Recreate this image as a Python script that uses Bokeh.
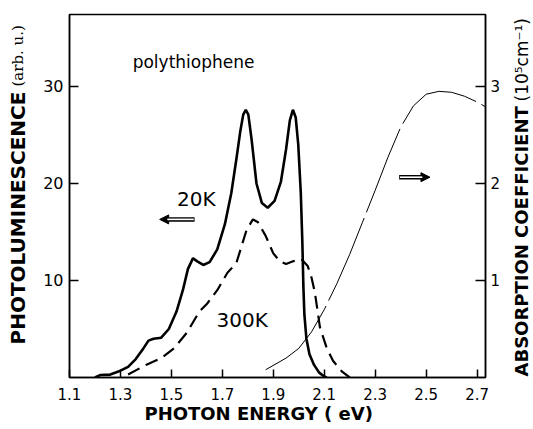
import math
from bokeh.plotting import figure
from bokeh.layouts import row
from bokeh.models import Range1d, LinearAxis, FixedTicker, Label, Arrow, NormalHead
from bokeh.embed import file_html
from bokeh.resources import INLINE

# ---- data ----
energy_20k = [1.20, 1.22, 1.26, 1.30, 1.33, 1.36, 1.39, 1.41, 1.43, 1.46, 1.49, 1.52,
              1.545, 1.565, 1.585, 1.60, 1.625, 1.65, 1.68, 1.71, 1.735, 1.755, 1.77,
              1.782, 1.792, 1.802, 1.815, 1.834, 1.855, 1.878, 1.905, 1.93, 1.95, 1.965,
              1.977, 1.988, 1.998, 2.008, 2.014, 2.018, 2.022, 2.03, 2.042, 2.06, 2.08,
              2.10, 2.11]
pl_20k = [0.0, 0.25, 0.3, 0.7, 1.1, 1.9, 3.0, 3.8, 4.0, 4.1, 5.0, 6.8,
          9.0, 11.2, 12.3, 12.0, 11.6, 11.9, 13.2, 15.8, 19.0, 22.5, 25.3,
          27.1, 27.6, 27.1, 24.5, 20.0, 18.0, 17.5, 18.2, 20.2, 23.5, 26.5,
          27.6, 26.8, 24.0, 19.0, 14.0, 9.5, 6.5, 4.0, 2.4, 1.3, 0.5,
          0.1, 0.0]

energy_300k = [1.33, 1.40, 1.46, 1.51, 1.56, 1.61, 1.64, 1.68, 1.72, 1.755, 1.795,
               1.82, 1.84, 1.87, 1.90, 1.925, 1.95, 1.98, 2.01, 2.035, 2.05, 2.063,
               2.083, 2.11, 2.135, 2.17, 2.20]
pl_300k = [0.3, 1.3, 2.0, 3.0, 4.6, 6.8, 7.6, 9.0, 10.8, 11.8, 15.2,
           16.3, 16.0, 14.6, 12.8, 12.0, 11.7, 12.0, 12.2, 11.5, 10.3, 8.8,
           5.2, 3.0, 1.7, 0.6, 0.0]

energy_abs = [1.87, 1.95, 2.00, 2.05, 2.10, 2.15, 2.20, 2.25, 2.30, 2.35, 2.40,
              2.45, 2.50, 2.55, 2.60, 2.65, 2.70, 2.733]
absorption = [0.08, 0.20, 0.30, 0.47, 0.70, 0.97, 1.27, 1.60, 1.93, 2.27, 2.58,
              2.80, 2.92, 2.95, 2.94, 2.90, 2.84, 2.79]

x_ticks = [1.1, 1.3, 1.5, 1.7, 1.9, 2.1, 2.3, 2.5, 2.7]
left_ticks = [10, 20, 30]
right_ticks = [1, 2, 3]

x_title = "PHOTON   ENERGY ( eV)" + "\u00a0" * 4
left_title_main = "PHOTOLUMINESCENCE"
left_title_unit = "(arb. u.)"
right_title_main = "ABSORPTION  COEFFICIENT"
right_title_unit = "(10\u2075cm\u207b\u00b9)"

# annotation anchors (data units)
arrow_left = (1.591, 1.454, 16.3)
arrow_right = (2.394, 2.515, 20.65)

FONT = "DejaVu Sans"
H = 429
W_SIDE = 30
W_MAIN = 533 - 2 * W_SIDE
TOP, BOTTOM = 14, 52


def side_panel():
    # frame aligned with the main plot frame; data y == page y measured from bottom
    s = figure(width=W_SIDE, height=H, x_range=Range1d(0, W_SIDE),
               y_range=Range1d(BOTTOM, H - TOP),
               output_backend="svg", toolbar_location=None,
               x_axis_location=None, y_axis_location=None,
               min_border_left=0, min_border_right=0,
               min_border_top=TOP, min_border_bottom=BOTTOM)
    s.title.visible = False
    s.grid.visible = False
    s.outline_line_color = None
    return s


p = figure(width=W_MAIN, height=H,
           x_range=Range1d(1.1, 2.733), y_range=Range1d(0, 37.42),
           output_backend="svg", toolbar_location=None,
           min_border_left=39, min_border_right=18,
           min_border_top=TOP, min_border_bottom=BOTTOM)
p.title.visible = False
p.extra_y_ranges = {"abs": Range1d(0, 3.742)}
p.grid.visible = False
p.outline_line_color = "black"
p.outline_line_width = 1.5
p.outline_line_alpha = 1.0

xa = p.xaxis[0]
xa.ticker = FixedTicker(ticks=x_ticks)
ya = p.yaxis[0]
ya.ticker = FixedTicker(ticks=left_ticks)
ra = LinearAxis(y_range_name="abs", ticker=FixedTicker(ticks=right_ticks))
p.add_layout(ra, "right")

for ax, tin, stand, fs in ((xa, 8, 10, "15px"), (ya, 9, 6, "16px"), (ra, 10, 5, "15px")):
    ax.major_tick_in = tin
    ax.major_tick_out = 0
    ax.minor_tick_line_color = None
    ax.major_tick_line_width = 1.5
    ax.axis_line_width = 1.5
    ax.major_label_standoff = stand
    ax.major_label_text_font = FONT
    ax.major_label_text_font_size = fs
    ax.major_label_text_color = "black"
    ax.axis_label = None

xa.axis_label = x_title
xa.axis_label_standoff = 0
xa.axis_label_text_font = FONT
xa.axis_label_text_font_style = "bold"
xa.axis_label_text_font_size = "18px"
xa.axis_label_text_color = "black"

# curves
p.line(energy_20k, pl_20k, line_color="black", line_width=2.6)
p.line(energy_300k, pl_300k, line_color="black", line_width=2.2, line_dash="13 7")
p.line(energy_abs, absorption, y_range_name="abs", line_color="black",
       line_width=1.0, line_dash="90 6")

# arrows (double-line shaft)
for xs, xe, yy in (arrow_left, arrow_right):
    p.add_layout(Arrow(x_start=xs, y_start=yy, x_end=xe, y_end=yy,
                       line_color="black", line_width=4.5,
                       end=NormalHead(size=9, fill_color="black", line_color="black")))
    d = 0.03 if xe < xs else -0.03
    p.segment(x0=[xs - d * 0.1], y0=[yy], x1=[xe + d], y1=[yy],
              line_color="white", line_width=1.6, level="overlay")

# text labels inside the plot
for x, y, t, fs in ((1.348, 32.5, "polythiophene", "17px"),
                    (1.522, 18.42, "20K", "20px"),
                    (1.677, 5.88, "300K", "20px")):
    p.add_layout(Label(x=x, y=y, text=t, text_font=FONT, text_font_size=fs,
                       text_color="black", text_baseline="alphabetic", text_align="left"))

# left axis title (bold sans + serif unit)
pl = side_panel()
pl.add_layout(Label(x=17, y=H - 344, text=left_title_main, angle=math.pi / 2,
                    text_font=FONT, text_font_style="bold", text_font_size="20px",
                    text_color="black", text_align="left", text_baseline="middle"))
pl.add_layout(Label(x=17, y=H - 86, text=left_title_unit, angle=math.pi / 2,
                    text_font="DejaVu Serif", text_font_size="15px",
                    text_color="black", text_align="left", text_baseline="middle"))

# right axis title
pr = side_panel()
pr.add_layout(Label(x=18, y=H - 376, text=right_title_main, angle=math.pi / 2,
                    text_font=FONT, text_font_style="bold", text_font_size="18px",
                    text_color="black", text_align="left", text_baseline="middle"))
pr.add_layout(Label(x=18, y=H - 101, text=right_title_unit, angle=math.pi / 2,
                    text_font=FONT, text_font_size="17px",
                    text_color="black", text_align="left", text_baseline="middle"))

layout = row(pl, p, pr, spacing=0)
open("out.html", "w").write(file_html(layout, INLINE))
